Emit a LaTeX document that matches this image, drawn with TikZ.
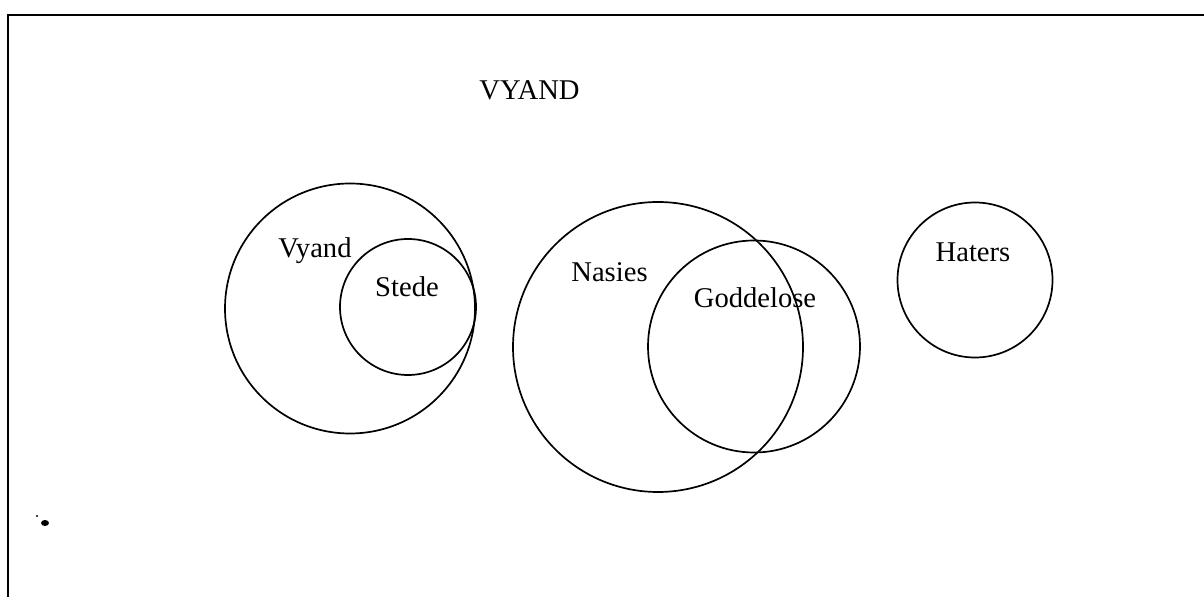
\documentclass[tikz,border=0pt]{standalone}
\usepackage{fontspec}
\setmainfont{Liberation Serif}
\begin{document}
\begin{tikzpicture}[x=0.5pt,y=-0.5pt,
  setc/.style={circle,draw,line width=0.85pt,inner sep=0pt,minimum size=#1},
  lbl/.style={anchor=base,inner sep=0pt,font=\fontsize{14.3}{17}\selectfont},
  frameline/.style={line width=1pt}]
\useasboundingbox (0,0) rectangle (1204,597);
\fill[white] (0,0) rectangle (1204,597);
% frame
\coordinate (fbl) at (8,597);
\coordinate (ftl) at (8,15);
\coordinate (ftr) at (1204,15);
\draw[frameline] (fbl) -- (ftl) -- (ftr);
% sets
\node[setc=125pt] (vyand) at (350,308.5) {};
\node[setc=68pt] (stede) at (408,307) {};
\node[setc=145pt] (nasies) at (658,347) {};
\node[setc=106pt] (godd) at (754,346.5) {};
\node[setc=77.5pt] (haters) at (975,280) {};
% labels
\node[lbl] (title) at (529.5,100) {VYAND};
\node[lbl] (lvyand) at (315,258) {Vyand};
\node[lbl] (lstede) at (407,297) {Stede};
\node[lbl] (lnasies) at (609.5,282) {Nasies};
\node[lbl] (lgodd) at (755,308) {Goddelose};
\node[lbl] (lhaters) at (973,262) {Haters};
% smudge
\fill (45,523) ellipse (4 and 3);
\fill (37,516) circle (1.2);
\end{tikzpicture}
\end{document}
